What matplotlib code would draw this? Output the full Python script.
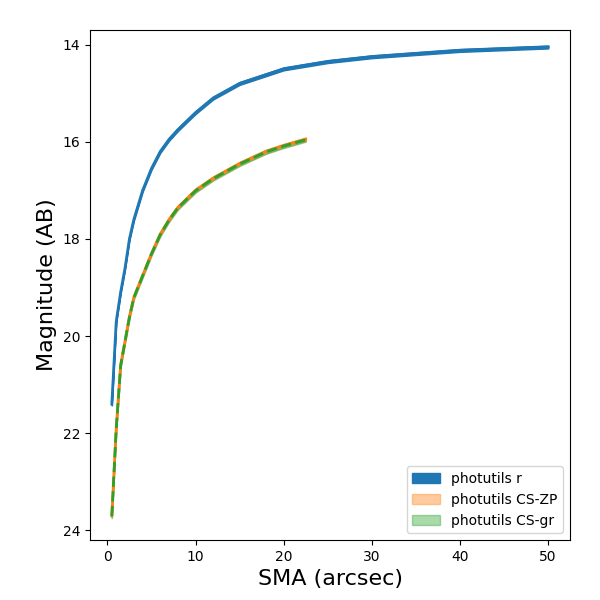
import numpy as np
import matplotlib
matplotlib.use("Agg")
import matplotlib.pyplot as plt

sma_r = np.array([0.5, 1, 1.5, 2, 2.5, 3, 4, 5, 6, 7, 8, 10, 12, 15, 20, 25, 30, 40, 50])
mag_r = np.array([21.4, 19.7, 19.1, 18.6, 18.0, 17.6, 17.0, 16.55, 16.2, 15.95, 15.75,
                  15.4, 15.1, 14.8, 14.5, 14.35, 14.25, 14.12, 14.05])
sma_cs = np.array([0.5, 1, 1.5, 2, 2.5, 3, 4, 5, 6, 7, 8, 10, 12, 15, 18, 20, 22.5])
mag_zp = np.array([23.7, 21.9, 20.6, 20.1, 19.6, 19.2, 18.75, 18.3, 17.9, 17.6, 17.35,
                   17.0, 16.75, 16.45, 16.2, 16.08, 15.95])
mag_gr = mag_zp + 0.01

fig, ax = plt.subplots(figsize=(6, 6), dpi=100)
ax.fill_between(sma_r, mag_r - 0.03, mag_r + 0.03, color="C0", label="photutils r")
ax.plot(sma_r, mag_r, color="C0", lw=2)
ax.fill_between(sma_cs, mag_zp - 0.04, mag_zp + 0.04, color="C1", alpha=0.4, label="photutils CS-ZP")
ax.plot(sma_cs, mag_zp, color="C1", lw=2)
ax.fill_between(sma_cs, mag_gr - 0.04, mag_gr + 0.04, color="C2", alpha=0.4, label="photutils CS-gr")
ax.plot(sma_cs, mag_gr, color="C2", lw=2, ls="--")

ax.set_ylim(24.2, 13.7)
ax.set_xlabel("SMA (arcsec)", fontsize=16)
ax.set_ylabel("Magnitude (AB)", fontsize=16)
ax.legend(loc="lower right")
fig.subplots_adjust(left=0.15, right=0.95, top=0.95, bottom=0.1)
fig.savefig("out.png")
